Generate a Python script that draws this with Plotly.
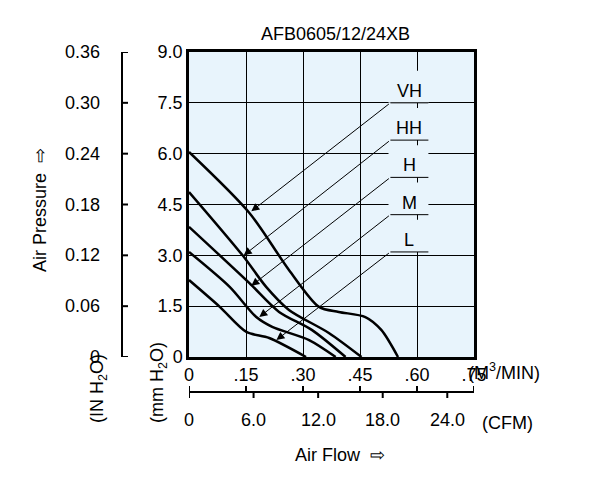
import plotly.graph_objects as go

# flow in M3/MIN, pressure in mm H2O
vh_x = [0, .159, .263, .342, .394, .464, .506, .550]
vh_y = [6.05, 4.25, 2.57, 1.48, 1.33, 1.18, 0.80, 0]
hh_x = [0, .141, .203, .263, .368, .454]
hh_y = [4.87, 3.0, 2.07, 1.39, 0.71, 0]
h_x = [0, .159, .237, .323, .412]
h_y = [3.84, 2.18, 1.33, 0.80, 0]
m_x = [0, .107, .177, .219, .316, .386]
m_y = [3.1, 2.07, 1.18, 0.89, 0.50, 0]
l_x = [0, .081, .151, .211, .308]
l_y = [2.27, 1.48, 0.74, 0.56, 0]

names = ["VH", "HH", "H", "M", "L"]
curves = [(vh_x, vh_y), (hh_x, hh_y), (h_x, h_y), (m_x, m_y), (l_x, l_y)]
# arrow tips on curves and label underline levels
tips = [(.164, 4.3), (.144, 3.0), (.164, 2.1), (.185, 1.18), (.230, 0.5)]
label_y = [7.5, 6.4, 5.3, 4.2, 3.1]

flow_ticks = [0, .15, .30, .45, .60, .75]
flow_labels = ["0", ".15", ".30", ".45", ".60", ".75"]
cfm_ticks = [0, 6.0, 12.0, 18.0, 24.0]
mm_ticks = [0, 1.5, 3.0, 4.5, 6.0, 7.5, 9.0]
mm_labels = ["0", "1.5", "3.0", "4.5", "6.0", "7.5", "9.0"]
in_labels = ["0", "0.06", "0.12", "0.18", "0.24", "0.30", "0.36"]

W, H = 592, 491
L, R, T, B = 189, 474, 52, 357
OFF = 8  # page body margin
def px(x): return (x - L) / (R - L)
def py(y): return (B - y) / (B - T)

FONT = "Liberation Sans, Arial, sans-serif"
FS = 18
fig = go.Figure()
for (x, y) in curves:
    fig.add_trace(go.Scatter(x=x, y=y, mode="lines", line=dict(color="black", width=2.5, shape="spline", smoothing=0.8),
                             showlegend=False, hoverinfo="skip"))

shapes = []
annotations = []
for n, (tx, ty), ly in zip(names, tips, label_y):
    shapes.append(dict(type="rect", xref="x", yref="y", x0=.525, x1=.63, y0=ly, y1=ly + 0.95,
                       fillcolor="#e8f4fc", line=dict(width=0), layer="above"))
    shapes.append(dict(type="line", xref="x", yref="y", x0=.53, x1=.63, y0=ly, y1=ly,
                       line=dict(color="black", width=1), layer="above"))
    annotations.append(dict(x=tx, y=ty, xref="x", yref="y", ax=.53, ay=ly, axref="x", ayref="y",
                            showarrow=True, arrowhead=2, arrowsize=1.6, arrowwidth=1, arrowcolor="black",
                            text=""))
    annotations.append(dict(x=.58, y=ly, xref="x", yref="y", text=n, showarrow=False, yanchor="bottom",
                            font=dict(size=FS, family=FONT, color="black")))

# outer left axis (IN H2O)
shapes.append(dict(type="line", xref="paper", yref="y", x0=px(122), x1=px(122), y0=0, y1=9, line=dict(color="black", width=2)))
for v, t in zip(mm_ticks, in_labels):
    shapes.append(dict(type="line", xref="paper", yref="y", x0=px(122), x1=px(128), y0=v, y1=v, line=dict(color="black", width=2)))
    annotations.append(dict(x=px(102), y=v, xref="paper", yref="y", text=t, showarrow=False, xanchor="right",
                            font=dict(size=FS, family=FONT, color="black")))
# second bottom axis (CFM)
shapes.append(dict(type="line", xref="x", yref="paper", x0=0, x1=.75, y0=py(392), y1=py(392), line=dict(color="black", width=2)))
for c in cfm_ticks:
    shapes.append(dict(type="line", xref="x", yref="paper", x0=c / 35.31, x1=c / 35.31, y0=py(392), y1=py(398), line=dict(color="black", width=2)))
    annotations.append(dict(x=c / 35.31, y=py(408), xref="x", yref="paper", text="0" if c == 0 else f"{c:.1f}", showarrow=False,
                            yanchor="top", font=dict(size=FS, family=FONT, color="black")))
for v in flow_ticks:
    shapes.append(dict(type="line", xref="x", yref="paper", x0=v, x1=v, y0=py(386), y1=py(392), line=dict(color="black", width=2)))

txt = dict(showarrow=False, font=dict(size=FS, family=FONT, color="black"))
annotations += [
    dict(x=px(335), y=py(22), xref="paper", yref="paper", text="AFB0605/12/24XB", **txt),
    dict(x=px(542), y=py(385), xref="paper", yref="paper", text="(M<sup>3</sup>/MIN)", **txt),
    dict(x=px(535), y=py(435), xref="paper", yref="paper", text="(CFM)", **txt),
    dict(x=px(340), y=py(467), xref="paper", yref="paper", text="Air Flow  ⇨", **txt),
    dict(x=px(28), y=py(210), xref="paper", yref="paper", text="Air Pressure  ⇨", textangle=-90, **txt),
    dict(x=px(85), y=py(425), xref="paper", yref="paper", text="(IN H<sub>2</sub>O)", textangle=-90, **txt),
    dict(x=px(145), y=py(425), xref="paper", yref="paper", text="(mm H<sub>2</sub>O)", textangle=-90, **txt),
]

fig.update_layout(
    width=W - OFF, height=H - OFF, margin=dict(l=L - OFF, r=W - R, t=T - OFF, b=H - B),
    paper_bgcolor="white", plot_bgcolor="#e8f4fc",
    shapes=shapes, annotations=annotations,
    xaxis=dict(range=[0, .75], tickvals=flow_ticks, ticktext=flow_labels, showgrid=True, gridcolor="black", gridwidth=1,
               showline=True, linecolor="black", linewidth=2.5, mirror=True, zeroline=False, ticks="",
               tickfont=dict(size=FS, family=FONT, color="black")),
    yaxis=dict(range=[0, 9], tickvals=mm_ticks, ticktext=mm_labels, showgrid=True, gridcolor="black", gridwidth=1,
               showline=True, linecolor="black", linewidth=2.5, mirror=True, zeroline=False, ticks="", ticklen=0,
               tickfont=dict(size=FS, family=FONT, color="black")),
)
fig.write_html("out.html")
